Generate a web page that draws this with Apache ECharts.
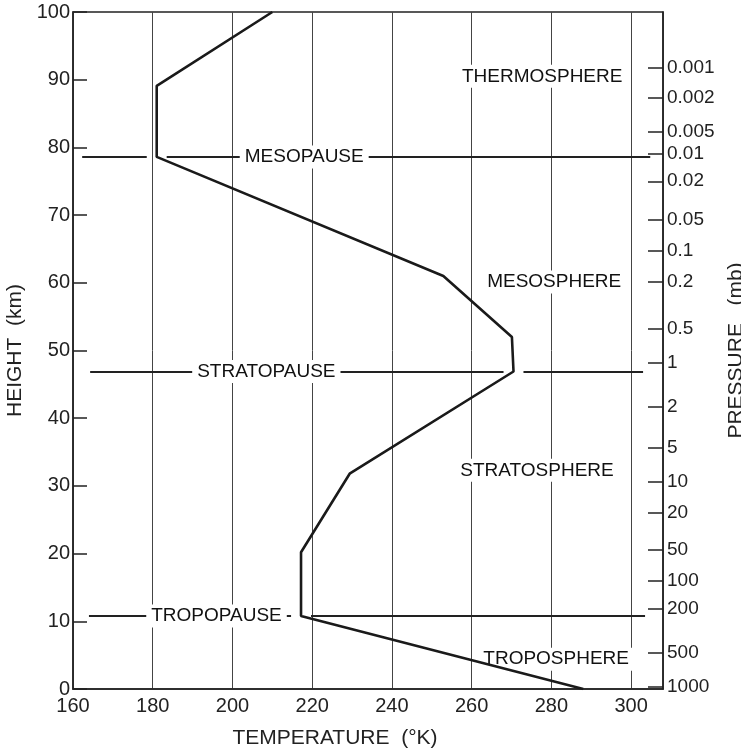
<!DOCTYPE html>
<html>
<head>
<meta charset="utf-8">
<script src="https://cdn.jsdelivr.net/npm/echarts@6/dist/echarts.min.js"></script>
<style>
  html, body { margin: 0; background: #fff; }
  #main { width: 741px; height: 750px; }
</style>
</head>
<body>
<div id="main"></div>
<script>
// temperature profile (standard atmosphere)
const tempK = [288, 217.2, 217.2, 229.4, 270.5, 270.1, 252.9, 181, 181, 210];
const heightKm = [0, 10.8, 20.2, 31.8, 46.9, 52, 61, 78.6, 89.1, 100];

// boundary lines (km) and where they run (K)
const pauseNames = ['TROPOPAUSE', 'STRATOPAUSE', 'MESOPAUSE'];
const pauseHeights = [10.8, 46.9, 78.6];
const pauseFrom = [164, 164.3, 162.3];
const pauseTo = [303.5, 303, 304.8];
const pauseLabelT = [196, 208.5, 218];

// layer names
const layerNames = ['TROPOSPHERE', 'STRATOSPHERE', 'MESOSPHERE', 'THERMOSPHERE'];
const layerT = [281.2, 276.4, 280.7, 277.7];
const layerH = [4.4, 32.3, 60.1, 90.5];

// pressure scale on the right (mb) and the heights they sit at
const pressureLabels = ['1000', '500', '200', '100', '50', '20', '10', '5', '2', '1',
  '0.5', '0.2', '0.1', '0.05', '0.02', '0.01', '0.005', '0.002', '0.001'];
const pressureHeights = [0.3, 5.3, 11.8, 16.0, 20.5, 26.0, 30.6, 35.7, 41.7, 48.2,
  53.2, 60.1, 64.8, 69.3, 75.0, 79.0, 82.3, 87.3, 91.7];

const ink = '#222';
const font = 'Liberation Sans';

// temperature of the curve at a given height
function tempAt(h) {
  for (let i = 1; i < heightKm.length; i++) {
    if (h <= heightKm[i]) {
      const f = (h - heightKm[i - 1]) / (heightKm[i] - heightKm[i - 1]);
      return tempK[i - 1] + f * (tempK[i] - tempK[i - 1]);
    }
  }
  return tempK[tempK.length - 1];
}

// each boundary line is broken where the curve passes
const gap = 2.5;
const pauseSegments = [];
pauseHeights.forEach(function (h, i) {
  const t = tempAt(h);
  pauseSegments.push({ coords: [[pauseFrom[i], h], [t - gap, h]] });
  pauseSegments.push({ coords: [[t + gap, h], [pauseTo[i], h]] });
});

const textLabel = {
  show: true,
  position: 'inside',
  formatter: function (p) { return p.value[2]; },
  color: '#111',
  opacity: 1,
  fontFamily: font,
  fontSize: 19,
  backgroundColor: '#fff',
  padding: [2, 5]
};

let myChart = echarts.init(document.getElementById('main'));
let option = {
  backgroundColor: '#fff',
  animation: false,
  grid: {
    left: 73,
    right: 78,
    top: 12,
    bottom: 61,
    show: true,
    borderColor: ink,
    borderWidth: 1.5,
    outerBoundsMode: 'none'
  },
  xAxis: {
    type: 'value',
    min: 160,
    max: 308,
    interval: 20,
    name: 'TEMPERATURE  (°K)',
    nameLocation: 'middle',
    nameGap: 39,
    nameTextStyle: { color: ink, fontFamily: font, fontSize: 21, padding: [0, 66, 0, 0] },
    axisLine: { show: true, lineStyle: { color: ink, width: 1.5 } },
    axisTick: { show: false },
    axisLabel: {
      color: ink,
      fontFamily: font,
      fontSize: 20,
      margin: 7,
      formatter: function (v) { return v % 20 === 0 ? String(v) : ''; }
    },
    splitLine: { show: true, lineStyle: { color: '#444', width: 1 } }
  },
  yAxis: [
    {
      type: 'value',
      min: 0,
      max: 100,
      interval: 10,
      name: 'HEIGHT  (km)',
      nameLocation: 'middle',
      nameGap: 40,
      nameTextStyle: { color: ink, fontFamily: font, fontSize: 21 },
      axisLine: { show: true, lineStyle: { color: ink, width: 1.5 } },
      axisTick: { show: true, inside: true, length: 14, lineStyle: { color: ink, width: 1.5 } },
      axisLabel: { color: ink, fontFamily: font, fontSize: 20, margin: 3 },
      splitLine: { show: false }
    },
    {
      type: 'value',
      position: 'right',
      min: 0,
      max: 100,
      name: 'PRESSURE   (mb)',
      nameLocation: 'middle',
      nameGap: 40,
      nameTextStyle: { color: ink, fontFamily: font, fontSize: 21 },
      axisLine: { show: true, lineStyle: { color: ink, width: 1.5 } },
      axisTick: {
        show: true,
        inside: true,
        length: 15,
        customValues: pressureHeights,
        lineStyle: { color: ink, width: 1.5 }
      },
      axisLabel: {
        color: ink,
        fontFamily: font,
        fontSize: 19,
        margin: 4,
        customValues: pressureHeights,
        formatter: function (v) {
          const i = pressureHeights.indexOf(v);
          return i >= 0 ? pressureLabels[i] : '';
        }
      },
      splitLine: { show: false }
    }
  ],
  series: [
    {
      name: 'pauses',
      type: 'lines',
      coordinateSystem: 'cartesian2d',
      polyline: false,
      silent: true,
      z: 2,
      lineStyle: { color: ink, width: 1.8, opacity: 1 },
      data: pauseSegments
    },
    {
      name: 'pause labels',
      type: 'scatter',
      symbolSize: 0,
      silent: true,
      z: 3,
      itemStyle: { opacity: 1 },
      label: textLabel,
      data: pauseNames.map(function (n, i) { return [pauseLabelT[i], pauseHeights[i], n]; })
    },
    {
      name: 'layer labels',
      type: 'scatter',
      symbolSize: 0,
      silent: true,
      z: 3,
      itemStyle: { opacity: 1 },
      label: textLabel,
      data: layerNames.map(function (n, i) { return [layerT[i], layerH[i], n]; })
    },
    {
      name: 'temperature',
      type: 'line',
      showSymbol: false,
      silent: true,
      z: 4,
      lineStyle: { color: '#1a1a1a', width: 2.6 },
      data: tempK.map(function (t, i) { return [t, heightKm[i]]; })
    }
  ]
};

myChart.setOption(option);
</script>
</body>
</html>
